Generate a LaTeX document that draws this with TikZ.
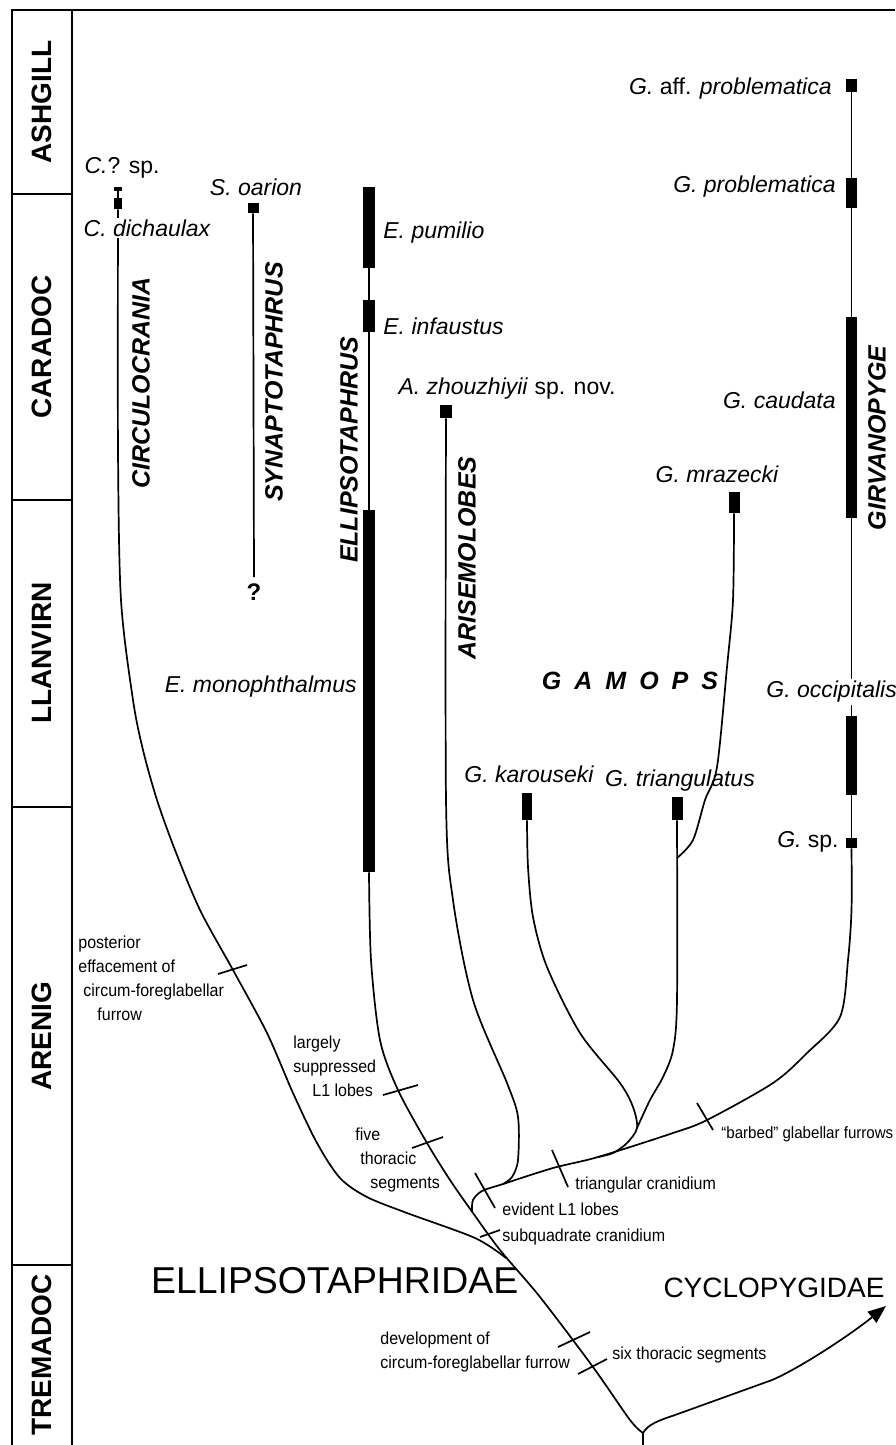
\documentclass[tikz,border=0pt]{standalone}
\usepackage{fontspec}
\setmainfont{Liberation Sans}
\newfontfamily\narrowfont[FakeStretch=0.92]{Liberation Sans}
\newfontfamily\spacedfont[LetterSpace=52]{Liberation Sans}
\usetikzlibrary{arrows.meta}
\tikzset{
    lineage/.style={draw=black, line width=0.85pt},
    charmark/.style={draw=black, line width=0.85pt},
    frame/.style={draw=black, line width=0.7pt},
    rng/.style={fill=black, inner sep=0pt, minimum width=5.5pt},
    species/.style={font=\fontsize{11.5}{13}\selectfont\itshape, inner sep=1pt},
    genus/.style={font=\fontsize{12.5}{14}\selectfont\bfseries\itshape, rotate=90, inner sep=0pt},
    period/.style={font=\fontsize{14}{16}\selectfont\bfseries, rotate=90},
    note/.style={font=\narrowfont\fontsize{8.7}{12}\selectfont, align=left, inner sep=0pt},
    family/.style={font=\fontsize{18.7}{20}\selectfont},
}

\begin{document}
\begin{tikzpicture}[x=0.5pt, y=-0.5pt]
\useasboundingbox (0,0) rectangle (895,1445);
% \draw[step=50, very thin, gray] (0,0) grid (895,1445);

% stratigraphic column
\draw[frame] (12,1445) -- (12,10) -- (895,10);
\draw[frame] (72,10) -- (72,1445);
\foreach \yb in {194,500,807,1265}
    \draw[frame] (12,\yb) -- (72,\yb);
\node[period] (ashgill) at (42,102) {ASHGILL};
\node[period] (caradoc) at (42,347) {CARADOC};
\node[period] (llanvirn) at (42,653) {LLANVIRN};
\node[period] (arenig) at (42,1036) {ARENIG};
\node[period] (tremadoc) at (42,1355) {TREMADOC};

% ranges
\node[rng, minimum width=4pt, minimum height=2pt] (cqsp) at (118,189) {};
\node[rng, minimum width=4pt, minimum height=5.5pt] (cdich) at (118,203.5) {};
\node[rng, minimum height=5pt] (soar) at (253,208) {};
\node[rng, minimum width=6pt, minimum height=40.5pt] (epum) at (369,227.5) {};
\node[rng, minimum width=6pt, minimum height=16pt] (einf) at (369,316) {};
\node[rng, minimum width=6pt, minimum height=181pt] (emono) at (369,691) {};
\node[rng, minimum width=6pt, minimum height=6.5pt] (azh) at (446,411.5) {};
\node[rng, minimum width=5pt, minimum height=13.5pt] (gkar) at (527,806.5) {};
\node[rng, minimum height=11.5pt] (gtri) at (677,808.5) {};
\node[rng, minimum height=10.5pt] (gmraz) at (734,502.5) {};
\node[rng, minimum height=6.5pt] (gaff) at (851.5,85.5) {};
\node[rng, minimum height=15pt] (gprob) at (851.5,193) {};
\node[rng, minimum height=100.5pt] (gcaud) at (851.5,417.5) {};
\node[rng, minimum height=39.5pt] (gocc) at (851.5,755.5) {};
\node[rng, minimum height=5pt] (gsp) at (851.5,843) {};
\node[font=\fontsize{12}{14}\selectfont\bfseries, inner sep=3pt] (qmark) at (254,592) {?};

\coordinate (root) at (643,1433);
\coordinate (rootbase) at (643,1445);
\coordinate (cyclo) at (886,1306);
\coordinate (cjoin) at (506,1258);
\coordinate (bjoin) at (472,1211);
\coordinate (ajoin) at (503,1184);
\coordinate (gjoin) at (598,1157);
\coordinate (kjoin) at (637,1128);
\coordinate (mjoin) at (677,858);

% lineages
\draw[lineage] (cqsp) -- (cdich);
\draw[lineage] (soar) -- (qmark.north);
\draw[lineage] (epum) -- (einf) -- (emono);
\draw[lineage] (gaff) -- (gprob) -- (gcaud) -- (gocc) -- (gsp);
\draw[lineage] (rootbase) -- (root);
\draw[lineage] plot[smooth, tension=0.5] coordinates {(emono.south) (371,960) (380,1040)
    (398,1090) (427,1143) (450,1180) (473,1213) (500,1250) (540,1297) (593,1367) (630,1420) (root)};
\draw[lineage] plot[smooth, tension=0.5] coordinates {(cdich.south) (118,450) (121,600)
    (133,700) (143,750) (157,800) (175,850) (200,910) (233,970) (267,1033) (293,1093)
    (317,1143) (340,1178) (367,1197) (407,1213) (475,1238) (cjoin)};
\draw[lineage] plot[smooth, tension=0.5] coordinates {(gsp.south) (851.5,910) (848,960)
    (840,1017) (807,1053) (773,1083) (707,1120) (673,1133) (gjoin) (553,1168) (ajoin)
    (482,1191) (473,1200) (bjoin)};
\draw[lineage] plot[smooth, tension=0.5] coordinates {(azh.south) (446,800) (453,900)
    (473,1000) (507,1083) (518,1117) (518,1160) (512,1177) (ajoin)};
\draw[lineage] plot[smooth, tension=0.5] coordinates {(gkar.south) (528,867) (533,917)
    (547,967) (580,1033) (620,1083) (633,1107) (kjoin) (627,1143) (613,1153) (gjoin)};
\draw[lineage] plot[smooth, tension=0.5] coordinates {(gtri.south) (677,1000) (673,1050)
    (663,1077) (650,1100) (kjoin)};
\draw[lineage] plot[smooth, tension=0.5] coordinates {(gmraz.south) (733,600) (727,667)
    (717,767) (705,800) (693,840) (mjoin)};
\draw[lineage, -{Triangle[length=9pt, width=7pt]}] (root) .. controls (648,1424) and (660,1420)
    .. (675,1415) -- (772,1380) .. controls (800,1368) and (850,1335) .. (cyclo);

% characters
\draw[charmark] (218,974) -- (247,965);
\draw[charmark] (383,1095) -- (418,1085);
\draw[charmark] (412,1148) -- (443,1137);
\draw[charmark] (475,1173) -- (495,1208);
\draw[charmark] (480,1237) -- (500,1230);
\draw[charmark] (552,1150) -- (568,1187);
\draw[charmark] (697,1103) -- (713,1130);
\draw[charmark] (558,1347) -- (590,1332);
\draw[charmark] (578,1374) -- (607,1359);

% species
\node[species] (cqsplab) at (122,168) {C.\textup{? sp.}};
\node[species, fill=white] (cdichlab) at (147,228) {C. dichaulax};
\node[species] (soarlab) at (256,187) {S. oarion};
\node[species, anchor=west] (pumlab) at (381,233) {E. pumilio};
\node[species, anchor=west] (inflab) at (381,326) {E. infaustus};
\node[species, anchor=east] (monolab) at (359,687) {E. monophthalmus};
\node[species] (azhlab) at (507,389) {A. zhouzhiyii \textup{sp. nov.}};
\node[species] (karlab) at (529,774) {G. karouseki};
\node[species] (trilab) at (680,781) {G. triangulatus};
\node[species] (mrzlab) at (717,474) {G. mrazecki};
\node[species, anchor=east] (afflab) at (834,89) {G. \textup{aff.} problematica};
\node[species, anchor=east] (problab) at (838,187) {G. problematica};
\node[species, anchor=east] (caudlab) at (838,400) {G. caudata};
\node[species, anchor=west, fill=white] (occlab) at (764,692) {G. occipitalis};
\node[species, anchor=east] (gsplab) at (841,842) {G. \textup{sp.}};

% genera
\node[genus] (circ) at (141,383) {CIRCULOCRANIA};
\node[genus] (synap) at (274,382) {SYNAPTOTAPHRUS};
\node[genus] (ellip) at (349,450) {ELLIPSOTAPHRUS};
\node[genus] (arise) at (467,558) {ARISEMOLOBES};
\node[genus] (girv) at (877,438) {GIRVANOPYGE};
\node[font=\spacedfont\fontsize{12.5}{14}\selectfont\bfseries\itshape] (gamops) at (630,681) {GAMOPS};

% families
\node[family, anchor=west] (ellfam) at (144,1281) {ELLIPSOTAPHRIDAE};
\node[font=\fontsize{14}{16}\selectfont] (cycfam) at (774,1288) {CYCLOPYGIDAE};

% character notes (base = last line)
\node[note, anchor=base west] (postlab) at (78,1020) {posterior\\effacement of\\\hspace{2.5pt}circum-foreglabellar\\\hspace{9.5pt}furrow};
\node[note, anchor=base west] (suplab) at (293,1096) {largely\\suppressed\\\hspace{9.5pt}L1 lobes};
\node[note, anchor=base west] (fivelab) at (355,1188) {five\\\hspace{2.5pt}thoracic\\\hspace{7.5pt}segments};
\node[note, anchor=base west] (evlab) at (502,1215) {evident L1 lobes};
\node[note, anchor=base west] (sqlab) at (502,1241) {subquadrate cranidium};
\node[note, anchor=base west] (trlab) at (575,1189) {triangular cranidium};
\node[note, anchor=base west, font=\narrowfont\fontsize{8.2}{12}\selectfont] (barlab) at (721,1138) {“barbed” glabellar furrows};
\node[note, anchor=base west] (devlab) at (380,1368) {development of\\circum-foreglabellar furrow};
\node[note, anchor=base west] (sixlab) at (612,1359) {six thoracic segments};
\end{tikzpicture}
\end{document}
